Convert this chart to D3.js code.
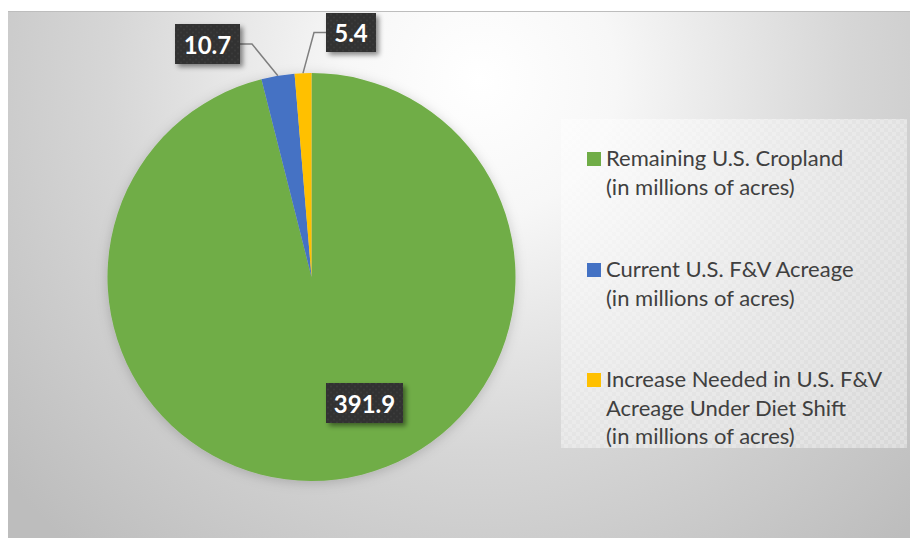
<!DOCTYPE html>
<html>
<head>
<meta charset="utf-8">
<script src="https://cdn.jsdelivr.net/npm/d3@7"></script>
<style>
  html, body { margin: 0; padding: 0; background: #fff; }
  svg { display: block; }
</style>
</head>
<body>
<svg id="chart" width="910" height="538"></svg>
<script>
// ---- data ----
const categories = [
  "Remaining U.S. Cropland (in millions of acres)",
  "Current U.S. F&V Acreage (in millions of acres)",
  "Increase Needed in U.S. F&V Acreage Under Diet Shift (in millions of acres)"
];
const values = [391.9, 10.7, 5.4];
const valueLabels = ["391.9", "10.7", "5.4"];
const legendLines = [
  ["Remaining U.S. Cropland", "(in millions of acres)"],
  ["Current U.S. F&V Acreage", "(in millions of acres)"],
  ["Increase Needed in U.S. F&V", "Acreage Under Diet Shift", "(in millions of acres)"]
];
const colors = ["#70AD47", "#4472C4", "#FFC000"];

// ---- layout ----
const W = 910, H = 538;
const svg = d3.select("#chart");
const defs = svg.append("defs");

const bgGrad = defs.append("radialGradient").attr("id", "bg")
  .attr("gradientUnits", "userSpaceOnUse")
  .attr("cx", 480).attr("cy", 80).attr("r", 620);
bgGrad.append("stop").attr("offset", "0%").attr("stop-color", "#ffffff");
bgGrad.append("stop").attr("offset", "22%").attr("stop-color", "#f7f7f7");
bgGrad.append("stop").attr("offset", "60%").attr("stop-color", "#d6d6d6");
bgGrad.append("stop").attr("offset", "100%").attr("stop-color", "#bdbdbd");

// dotted pattern for labels
const dots = defs.append("pattern").attr("id", "dots")
  .attr("patternUnits", "userSpaceOnUse").attr("width", 6).attr("height", 6);
dots.append("rect").attr("width", 6).attr("height", 6).attr("fill", "#303030");
dots.append("circle").attr("cx", 1.5).attr("cy", 1.5).attr("r", 1).attr("fill", "#3d3d3d");
dots.append("circle").attr("cx", 4.5).attr("cy", 4.5).attr("r", 1).attr("fill", "#3d3d3d");

// light checker pattern for legend
const chk = defs.append("pattern").attr("id", "chk")
  .attr("patternUnits", "userSpaceOnUse").attr("width", 8).attr("height", 8);
chk.append("rect").attr("width", 8).attr("height", 8).attr("fill", "rgba(255,255,255,0.35)");
chk.append("rect").attr("width", 4).attr("height", 4).attr("fill", "rgba(255,255,255,0.2)");
chk.append("rect").attr("x", 4).attr("y", 4).attr("width", 4).attr("height", 4).attr("fill", "rgba(255,255,255,0.2)");

const shadow = defs.append("filter").attr("id", "shadow")
  .attr("x", "-30%").attr("y", "-30%").attr("width", "160%").attr("height", "160%");
shadow.append("feDropShadow").attr("dx", 3).attr("dy", 3).attr("stdDeviation", 2.5)
  .attr("flood-color", "#000").attr("flood-opacity", 0.45);

const pieShadow = defs.append("filter").attr("id", "pieShadow")
  .attr("x", "-20%").attr("y", "-20%").attr("width", "140%").attr("height", "140%");
pieShadow.append("feDropShadow").attr("dx", 0).attr("dy", 2).attr("stdDeviation", 6)
  .attr("flood-color", "#000").attr("flood-opacity", 0.18);

// chart background
svg.append("rect").attr("x", 8).attr("y", 11).attr("width", W - 8).attr("height", H - 11)
  .attr("fill", "url(#bg)");
svg.append("line").attr("x1", 8).attr("x2", W).attr("y1", 11.5).attr("y2", 11.5)
  .attr("stroke", "#bdbdbd").attr("stroke-width", 1);

// legend background
svg.append("rect").attr("x", 561).attr("y", 119).attr("width", 346).attr("height", 329)
  .attr("fill", "url(#chk)");

// ---- pie ----
const cx = 311.5, cy = 277, R = 204;
const pie = d3.pie().sort(null).value(d => d);
const arcs = pie(values);
const arc = d3.arc().innerRadius(0).outerRadius(R);

const g = svg.append("g").attr("transform", `translate(${cx},${cy})`);
g.append("g").attr("filter", "url(#pieShadow)")
  .selectAll("path").data(arcs).join("path")
  .attr("d", arc).attr("fill", (d, i) => colors[i]);

// ---- leader lines & labels ----
const outerPt = d => {
  const a = (d.startAngle + d.endAngle) / 2;
  return [R * Math.sin(a), -R * Math.cos(a)];
};
const labelBoxes = [
  { x: 326 - cx, y: 383 - cy, w: 77, h: 40, leader: null },
  { x: 175 - cx, y: 24 - cy, w: 65, h: 40, leader: "right" },
  { x: 326 - cx, y: 13 - cy, w: 50, h: 39, leader: "left" }
];

arcs.forEach((d, i) => {
  const b = labelBoxes[i];
  if (b.leader) {
    const p = outerPt(d);
    const my = b.y + b.h / 2;
    const pts = b.leader === "right"
      ? [[b.x + b.w, my], [b.x + b.w + 12, my], p]
      : [[b.x, my], [b.x - 12, my], p];
    g.append("path").attr("d", d3.line()(pts))
      .attr("fill", "none").attr("stroke", "#7f7f7f").attr("stroke-width", 1.5);
  }
});

arcs.forEach((d, i) => {
  const b = labelBoxes[i];
  const lg = g.append("g");
  lg.append("rect").attr("x", b.x).attr("y", b.y).attr("width", b.w).attr("height", b.h)
    .attr("fill", "url(#dots)").attr("filter", "url(#shadow)");
  lg.append("text").attr("x", b.x + b.w / 2).attr("y", b.y + b.h / 2)
    .attr("text-anchor", "middle").attr("dominant-baseline", "central")
    .attr("font-family", "Lato, sans-serif").attr("font-weight", 700)
    .attr("font-size", 24).attr("fill", "#ffffff")
    .text(valueLabels[i]);
});

// ---- legend ----
const legendY = [166, 277, 387];
const lgd = svg.append("g");
legendLines.forEach((lines, i) => {
  lgd.append("rect").attr("x", 587).attr("y", legendY[i] - 14).attr("width", 14).attr("height", 14)
    .attr("fill", colors[i]);
  const t = lgd.append("text").attr("x", 606).attr("y", legendY[i])
    .attr("font-family", "Lato, sans-serif").attr("font-size", 22)
    .attr("fill", "#404040");
  lines.forEach((ln, j) => {
    t.append("tspan").attr("x", 606).attr("y", legendY[i] + j * 28.5).text(ln);
  });
});
</script>
</body>
</html>
